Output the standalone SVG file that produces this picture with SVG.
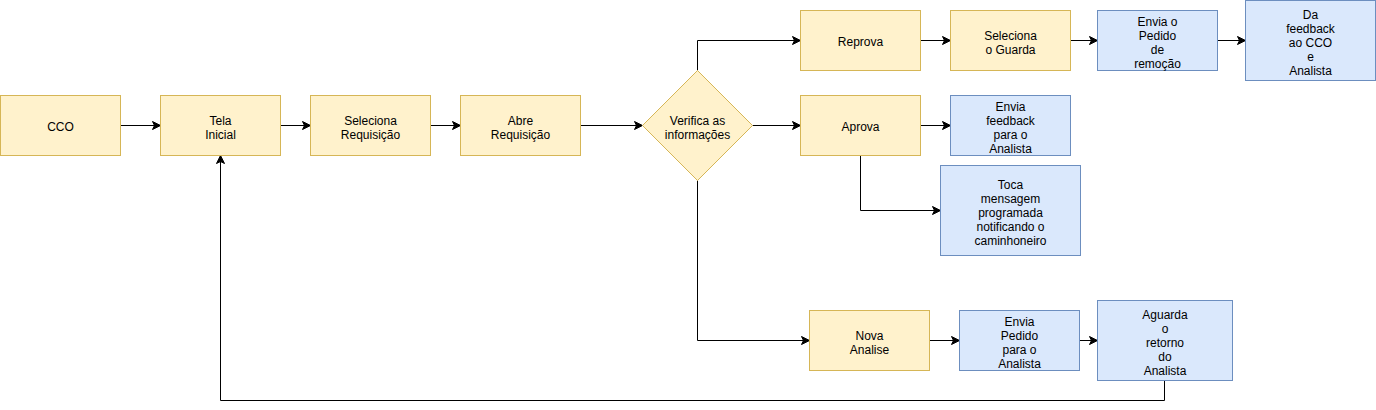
<svg xmlns="http://www.w3.org/2000/svg" width="1376" height="410" viewBox="0 0 1376 410">
<style>
.y{fill:#fff2cc;stroke:#d6b656;stroke-width:1}
.b{fill:#dae8fc;stroke:#6c8ebf;stroke-width:1}
text{font-family:"Liberation Sans",Arial,Helvetica,sans-serif;font-size:12px;fill:#000;text-anchor:middle}
.c{fill:none;stroke:#000;stroke-width:1;marker-end:url(#arr)}
</style>
<defs>
<marker id="arr" markerUnits="userSpaceOnUse" markerWidth="10" markerHeight="10" viewBox="-9 -5 10 10" refX="0" refY="0" orient="auto" overflow="visible">
<path d="M0,0 L-8,-4 L-6,0 L-8,4 Z" fill="#000" stroke="#000" stroke-width="1" stroke-linejoin="miter"/>
</marker>
</defs>
<rect width="1376" height="410" fill="#fff"/>
<g id="connectors">
<path class="c" d="M120.5,125.5 L160.5,125.5"/>
<path class="c" d="M280.5,125.5 L310.5,125.5"/>
<path class="c" d="M430.5,125.5 L460.5,125.5"/>
<path class="c" d="M580.5,125.5 L642.5,125.5"/>
<path class="c" d="M752.5,125.5 L800.5,125.5"/>
<path class="c" d="M697.5,70.5 L697.5,40.5 L800.5,40.5"/>
<path class="c" d="M920.5,40.5 L950.5,40.5"/>
<path class="c" d="M1070.5,40.5 L1097.5,40.5"/>
<path class="c" d="M1217.5,40.5 L1245.5,40.5"/>
<path class="c" d="M920.5,125.5 L950.5,125.5"/>
<path class="c" d="M860.5,155.5 L860.5,210.5 L940.5,210.5"/>
<path class="c" d="M697.5,180.5 L697.5,340.5 L809.5,340.5"/>
<path class="c" d="M929.5,340.5 L959.5,340.5"/>
<path class="c" d="M1079.5,340.5 L1097.5,340.5"/>
<path class="c" d="M1164.5,380.5 L1164.5,400.5 L220.5,400.5 L220.5,155.5"/>
</g>
<g id="cco"><rect class="y" x="0.5" y="95.5" width="120" height="60"/><text x="60.5" y="131">CCO</text></g>
<g id="tela-inicial"><rect class="y" x="160.5" y="95.5" width="120" height="60"/><text x="220.5" y="124.5">Tela</text><text x="220.5" y="138.5">Inicial</text></g>
<g id="seleciona-requisicao"><rect class="y" x="310.5" y="95.5" width="120" height="60"/><text x="370.5" y="124.5">Seleciona</text><text x="370.5" y="138.5">Requisição</text></g>
<g id="abre-requisicao"><rect class="y" x="460.5" y="95.5" width="120" height="60"/><text x="520.5" y="124.5">Abre</text><text x="520.5" y="138.5">Requisição</text></g>
<g id="verifica"><polygon class="y" points="697.5,70.5 752.5,125.5 697.5,180.5 642.5,125.5"/><text x="697.5" y="124.5">Verifica as</text><text x="697.5" y="138.5">informações</text></g>
<g id="reprova"><rect class="y" x="800.5" y="10.5" width="120" height="60"/><text x="860.5" y="46">Reprova</text></g>
<g id="seleciona-guarda"><rect class="y" x="950.5" y="10.5" width="120" height="60"/><text x="1010.5" y="39.5">Seleciona</text><text x="1010.5" y="53.5">o Guarda</text></g>
<g id="envia-pedido-remocao"><rect class="b" x="1097.5" y="10.5" width="120" height="60"/><text x="1157.5" y="26">Envia o</text><text x="1157.5" y="40">Pedido</text><text x="1157.5" y="54">de</text><text x="1157.5" y="68">remoção</text></g>
<g id="da-feedback"><rect class="b" x="1245.5" y="0.5" width="130" height="80"/><text x="1310.5" y="19">Da</text><text x="1310.5" y="33">feedback</text><text x="1310.5" y="47">ao CCO</text><text x="1310.5" y="61">e</text><text x="1310.5" y="75">Analista</text></g>
<g id="aprova"><rect class="y" x="800.5" y="95.5" width="120" height="60"/><text x="860.5" y="131">Aprova</text></g>
<g id="envia-feedback"><rect class="b" x="950.5" y="95.5" width="120" height="60"/><text x="1010.5" y="111">Envia</text><text x="1010.5" y="125">feedback</text><text x="1010.5" y="139">para o</text><text x="1010.5" y="153">Analista</text></g>
<g id="toca-mensagem"><rect class="b" x="940.5" y="165.5" width="140" height="90"/><text x="1010.5" y="189">Toca</text><text x="1010.5" y="203">mensagem</text><text x="1010.5" y="217">programada</text><text x="1010.5" y="231">notificando o</text><text x="1010.5" y="245">caminhoneiro</text></g>
<g id="nova-analise"><rect class="y" x="809.5" y="310.5" width="120" height="60"/><text x="869.5" y="339.5">Nova</text><text x="869.5" y="353.5">Analise</text></g>
<g id="envia-pedido-analista"><rect class="b" x="959.5" y="310.5" width="120" height="60"/><text x="1019.5" y="326">Envia</text><text x="1019.5" y="340">Pedido</text><text x="1019.5" y="354">para o</text><text x="1019.5" y="368">Analista</text></g>
<g id="aguarda-retorno"><rect class="b" x="1097.5" y="300.5" width="135" height="80"/><text x="1165" y="319">Aguarda</text><text x="1165" y="333">o</text><text x="1165" y="347">retorno</text><text x="1165" y="361">do</text><text x="1165" y="375">Analista</text></g>
</svg>
